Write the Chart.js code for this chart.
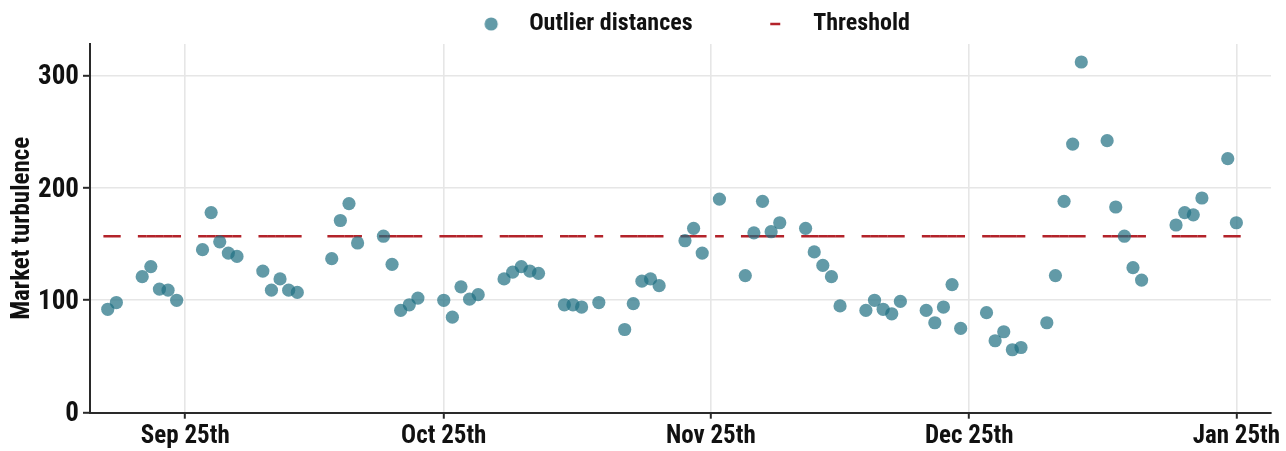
<!DOCTYPE html>
<html><head><meta charset="utf-8">
<script src="https://cdn.jsdelivr.net/npm/chart.js@4.4.1/dist/chart.umd.min.js"></script>
<style>html,body{margin:0;padding:0;background:#fff;}#wrap{width:1286px;height:451px;}</style>
</head><body><div id="wrap"><canvas id="c" width="1286" height="451"></canvas></div>
<script>
const dates = [
'2021-09-16','2021-09-17',
'2021-09-20','2021-09-21','2021-09-22','2021-09-23','2021-09-24',
'2021-09-27','2021-09-28','2021-09-29','2021-09-30','2021-10-01',
'2021-10-04','2021-10-05','2021-10-06','2021-10-07','2021-10-08',
'2021-10-12','2021-10-13','2021-10-14','2021-10-15',
'2021-10-18','2021-10-19','2021-10-20','2021-10-21','2021-10-22',
'2021-10-25','2021-10-26','2021-10-27','2021-10-28','2021-10-29',
'2021-11-01','2021-11-02','2021-11-03','2021-11-04','2021-11-05',
'2021-11-08','2021-11-09','2021-11-10','2021-11-12',
'2021-11-15','2021-11-16','2021-11-17','2021-11-18','2021-11-19',
'2021-11-22','2021-11-23','2021-11-24','2021-11-26',
'2021-11-29','2021-11-30','2021-12-01','2021-12-02','2021-12-03',
'2021-12-06','2021-12-07','2021-12-08','2021-12-09','2021-12-10',
'2021-12-13','2021-12-14','2021-12-15','2021-12-16','2021-12-17',
'2021-12-20','2021-12-21','2021-12-22','2021-12-23','2021-12-24',
'2021-12-27','2021-12-28','2021-12-29','2021-12-30','2021-12-31',
'2022-01-03','2022-01-04','2022-01-05','2022-01-06','2022-01-07',
'2022-01-10','2022-01-11','2022-01-12','2022-01-13','2022-01-14',
'2022-01-18','2022-01-19','2022-01-20','2022-01-21',
'2022-01-24','2022-01-25'
];
const outlierDistances = [
92, 98,
121, 130, 110, 109, 100,
145, 178, 152, 142, 139,
126, 109, 119, 109, 107,
137, 171, 186, 151,
157, 132, 91, 96, 102,
100, 85, 112, 101, 105,
119, 125, 130, 126, 124,
96, 96, 94, 98,
74, 97, 117, 119, 113,
153, 164, 142, 190,
122, 160, 188, 161, 169,
164, 143, 131, 121, 95,
91, 100, 92, 88, 99,
91, 80, 94, 114, 75,
89, 64, 72, 56, 58,
80, 122, 188, 239, 312,
242, 183, 157, 129, 118,
167, 178, 176, 191,
226, 169
];
const thresholdValues = [
157, 157,
157, 157, 157, 157, 157,
157, 157, 157, 157, 157,
157, 157, 157, 157, 157,
157, 157, 157, 157,
157, 157, 157, 157, 157,
157, 157, 157, 157, 157,
157, 157, 157, 157, 157,
157, 157, 157, 157,
157, 157, 157, 157, 157,
157, 157, 157, 157,
157, 157, 157, 157, 157,
157, 157, 157, 157, 157,
157, 157, 157, 157, 157,
157, 157, 157, 157, 157,
157, 157, 157, 157, 157,
157, 157, 157, 157, 157,
157, 157, 157, 157, 157,
157, 157, 157, 157,
157, 157
];
const tickDates = ['2021-09-25','2021-10-25','2021-11-25','2021-12-25','2022-01-25'];
const tickLabels = ['Sep 25th','Oct 25th','Nov 25th','Dec 25th','Jan 25th'];
const yTickValues = [0, 100, 200, 300];
const seriesNames = ['Outlier distances', 'Threshold'];

const BASE = Date.UTC(2021, 8, 25);
const dayOf = s => (Date.parse(s + 'T00:00:00Z') - BASE) / 86400000;

const FAMILY = "'Roboto Condensed','Open Sans',sans-serif";
const DOT = 'rgba(31,111,130,0.7)';
const RED = '#b3232a';
const INK = '#111111';

function makeDot() {
  const c = document.createElement('canvas'); c.width = 16; c.height = 16;
  const g = c.getContext('2d'); g.fillStyle = DOT; g.beginPath(); g.arc(8, 8, 6.6, 0, Math.PI * 2); g.fill();
  return c;
}
function makeDash() {
  const c = document.createElement('canvas'); c.width = 12; c.height = 4;
  const g = c.getContext('2d'); g.fillStyle = RED; g.fillRect(1, 0.75, 10, 2.5);
  return c;
}

const dotData = dates.map((d, i) => ({x: dayOf(d), y: outlierDistances[i]}));
const thrData = dates.map((d, i) => ({x: dayOf(d), y: thresholdValues[i]}));

const legendNudge = {
  id: 'legendNudge',
  afterLayout(chart) {
    const l = chart.legend;
    if (!l) return;
    l.left += 7; l.right += 7;
    l.top += 2; l.bottom += 2;
  }
};

new Chart(document.getElementById('c'), {
  type: 'scatter',
  plugins: [legendNudge],
  data: {
    datasets: [
      {label: seriesNames[0], data: dotData, backgroundColor: DOT, borderWidth: 0, pointRadius: 6.6, pointHoverRadius: 6.6},
      {label: seriesNames[1], data: thrData, pointStyle: 'line', borderColor: RED, backgroundColor: RED, borderWidth: 2.6, pointRadius: 4.35, pointHoverRadius: 4.35}
    ]
  },
  options: {
    responsive: false,
    animation: false,
    events: [],
    layout: {padding: {top: 0, right: 15, bottom: 0, left: 0}},
    plugins: {
      tooltip: {enabled: false},
      legend: {
        position: 'top',
        fullSize: false,
        labels: {
          usePointStyle: true,
          pointStyleWidth: 52,
          padding: 10,
          color: INK,
          font: {family: FAMILY, size: 24, weight: 'bold'},
          generateLabels: () => [
            {text: seriesNames[0] + '\u2003\u2003\u2009', pointStyle: makeDot(), fillStyle: DOT, strokeStyle: DOT, lineWidth: 0, hidden: false, datasetIndex: 0, fontColor: INK},
            {text: seriesNames[1], pointStyle: makeDash(), fillStyle: RED, strokeStyle: RED, lineWidth: 0, hidden: false, datasetIndex: 1, fontColor: INK}
          ]
        }
      }
    },
    scales: {
      x: {
        type: 'linear',
        min: -11.06, max: 126.02,
        afterBuildTicks: s => { s.ticks = tickDates.map(d => ({value: dayOf(d)})); },
        afterFit: s => { s.height = 38.3; },
        ticks: {
          autoSkip: false, maxRotation: 0, padding: 3, color: INK,
          font: {family: FAMILY, size: 25, weight: 'bold'},
          callback: (v, i) => tickLabels[i]
        },
        grid: {color: '#e6e6e6', lineWidth: 1.6, tickLength: 6, tickColor: '#2a2a2a', tickWidth: 2},
        border: {color: '#2a2a2a', width: 2}
      },
      y: {
        min: 0, max: 328.0,
        afterBuildTicks: s => { s.ticks = yTickValues.map(v => ({value: v})); },
        afterFit: s => { s.width = 90; },
        ticks: {
          padding: 4, color: INK, labelOffset: 2,
          font: {family: FAMILY, size: 27, weight: 'bold'},
          callback: v => String(v)
        },
        title: {display: true, text: 'Market turbulence', color: INK, padding: {top: 8, bottom: 0},
          font: {family: FAMILY, size: 25, weight: 'bold'}},
        grid: {color: c => c.tick && c.tick.value === 0 ? 'rgba(0,0,0,0)' : '#e6e6e6', lineWidth: 1.6, tickLength: 7, tickColor: '#2a2a2a', tickWidth: 2},
        border: {color: '#2a2a2a', width: 2}
      }
    }
  }
});
</script></body></html>
